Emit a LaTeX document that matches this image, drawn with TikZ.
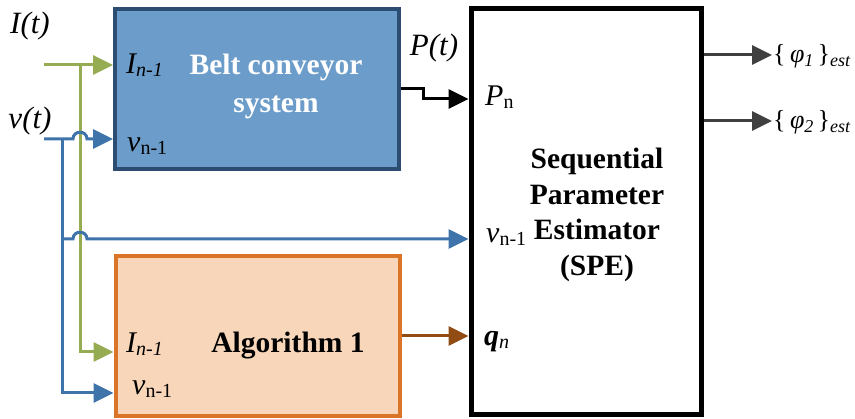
\documentclass[tikz,border=0pt]{standalone}
\usepackage{fontspec}
\setmainfont{Liberation Serif}
\usetikzlibrary{arrows.meta}

\definecolor{beltfill}{RGB}{108,157,202}
\definecolor{beltline}{RGB}{44,77,113}
\definecolor{algfill}{RGB}{248,214,186}
\definecolor{algline}{RGB}{218,116,38}
\definecolor{sigI}{RGB}{150,172,82}
\definecolor{sigv}{RGB}{62,116,170}
\definecolor{sigq}{RGB}{145,76,20}
\definecolor{outgray}{RGB}{64,64,64}

% lowered subscripts in text mode
\newcommand\lsub[1]{\raisebox{-3pt}{\fontsize{20}{22}\selectfont #1}}
\newcommand\osub[1]{\raisebox{-4pt}{\fontsize{18}{20}\selectfont #1}}

\begin{document}
\begin{tikzpicture}[x=1pt,y=-1pt,
  every node/.style={font=\fontsize{30}{34}\selectfont, inner sep=0pt},
  wire/.style={line width=3pt, >={Triangle[length=20pt,width=19pt]}},
  wI/.style={wire, draw=sigI, ->},
  wv/.style={wire, draw=sigv, ->},
  wq/.style={wire, draw=sigq, ->},
  wP/.style={wire, draw=black, ->},
  wo/.style={wire, draw=outgray, ->},
  title/.style={font=\fontsize{29.5}{38}\selectfont\bfseries, align=center},
  sig/.style={anchor=base, font=\fontsize{31}{34}\selectfont\itshape},
  port/.style={anchor=base west},
  est/.style={anchor=base west, font=\fontsize{26}{28}\selectfont}]
\useasboundingbox (0,0) rectangle (855,419);

% blocks
\node[draw=beltline, fill=beltfill, line width=4pt,
      minimum width=284pt, minimum height=160pt] (belt) at (257,89) {};
\node[draw=algline, fill=algfill, line width=4pt,
      minimum width=284pt, minimum height=160pt] (alg) at (257.5,336) {};
\node[draw=black, line width=5pt,
      minimum width=230pt, minimum height=406pt] (spe) at (586,212) {};

% block titles
\node[title, text=white] (beltT) at (276,86) {Belt conveyor\\system};
\node[title, anchor=base] (algT) at (288,353) {Algorithm 1};
\node[title, font=\fontsize{29.5}{35.5}\selectfont\bfseries] (speT) at (597,215)
  {Sequential\\Parameter\\Estimator\\(SPE)};

% signal names
\node[sig] (sI) at (30,34) {I(t)};
\node[sig] (sv) at (30,129) {v(t)};
\node[sig] (sP) at (434,56) {P(t)};

% port labels
\node[port] (bI) at (126,74) {\itshape I\lsub{n-1}};
\node[port] (bv) at (127,152) {\itshape v\lsub{\upshape n-1}};
\node[port] (aI) at (126,353) {\itshape I\lsub{n-1}};
\node[port] (av) at (132,395) {\itshape v\lsub{\upshape n-1}};
\node[port] (pP) at (485,106) {\itshape P\lsub{\upshape n}};
\node[port] (pv) at (486,243) {\itshape v\lsub{\upshape n-1}};
\node[port] (pq) at (484,346) {\bfseries\itshape q\lsub{\mdseries n}};

% estimates
\node[est] (o1) at (773,63) {\{\,\textit{φ\osub{1}}\,\}\osub{\itshape est}};
\node[est] (o2) at (773,129) {\{\,\textit{φ\osub{2}}\,\}\osub{\itshape est}};

% connector anchors
\coordinate (inI) at (44,65);
\coordinate (inv) at (44,139);
\coordinate (jI) at (80,65);
\coordinate (jv) at (62,139);
\coordinate (jb) at (62,239);
\coordinate (yIalg) at (0,352);
\coordinate (yvalg) at (0,393);
\coordinate (yPspe) at (0,99);
\coordinate (hop1) at (jI |- inv);
\coordinate (hop2) at (jI |- jb);
\coordinate (otip1) at (772,55);
\coordinate (otip2) at (772,121);

% current I(t)
\draw[wI] (inI) -- (inI -| belt.west);
\draw[wI] (jI) |- (alg.west |- yIalg);

% speed v(t), hopping over the current line
\draw[wv] (inv) -- ([xshift=-7pt]hop1) .. controls +(0,-9) and +(0,-9) ..
  ([xshift=7pt]hop1) -- (inv -| belt.west);
\draw[wv] (jv) |- (alg.west |- yvalg);
\draw[wv] (jb) -- ([xshift=-7pt]hop2) .. controls +(0,-9) and +(0,-9) ..
  ([xshift=7pt]hop2) -- (jb -| spe.west);

% power and q
\draw[wP] (belt.east) -- ++(22,0) |- (spe.west |- yPspe);
\draw[wq] (alg.east) -- (alg.east -| spe.west);

% estimate outputs
\draw[wo] (spe.east |- otip1) -- (otip1);
\draw[wo] (spe.east |- otip2) -- (otip2);
\end{tikzpicture}
\end{document}
